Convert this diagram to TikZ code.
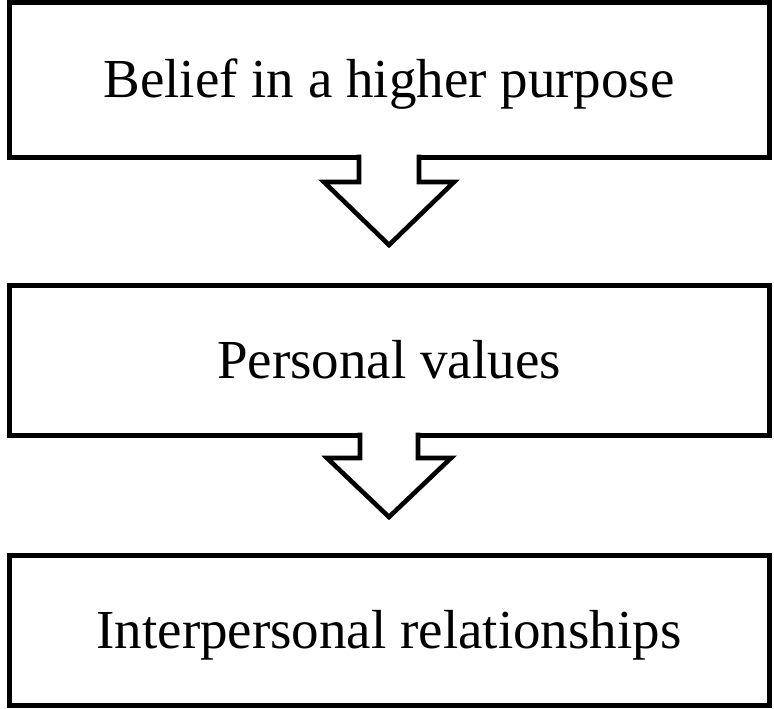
\documentclass[tikz,border=0pt]{standalone}
\usepackage{fontspec}
\setmainfont{Liberation Serif}
\usepackage{tikz}
\usetikzlibrary{calc}

\begin{document}
\begin{tikzpicture}[
  x=0.5pt, y=0.5pt,
  level/.style={rectangle, draw=black, line width=2.5pt, fill=white,
                minimum width=380pt, outer sep=0pt,
                text height=18.3pt, text depth=0pt,
                align=center, font=\fontsize{27.5}{33}\selectfont},
  hollow/.style={draw=black, fill=white, line width=2.3pt},
]
  \useasboundingbox (0,0) rectangle (774,-708);

  \node[level, minimum height=77.5pt] (belief) at (389,-79.5)
    {Belief in a higher purpose};
  \node[level, minimum height=75pt]   (values) at (389,-360)
    {Personal values};
  \node[level, minimum height=75pt]   (relations) at (389,-630)
    {Interpersonal relationships};

  % hollow block arrows, opening into the box above
  \draw[hollow] (belief.south) ++(-30,2.5) -- ++(0,-27.5) -- ++(-35,0)
    -- ++(65,-63) -- ++(65,63) -- ++(-35,0) -- ++(0,27.5);
  \draw[hollow] (values.south) ++(-29,2.5) -- ++(0,-25.5) -- ++(-33,0)
    -- ++(62,-59) -- ++(62,59) -- ++(-33,0) -- ++(0,25.5);
\end{tikzpicture}
\end{document}
